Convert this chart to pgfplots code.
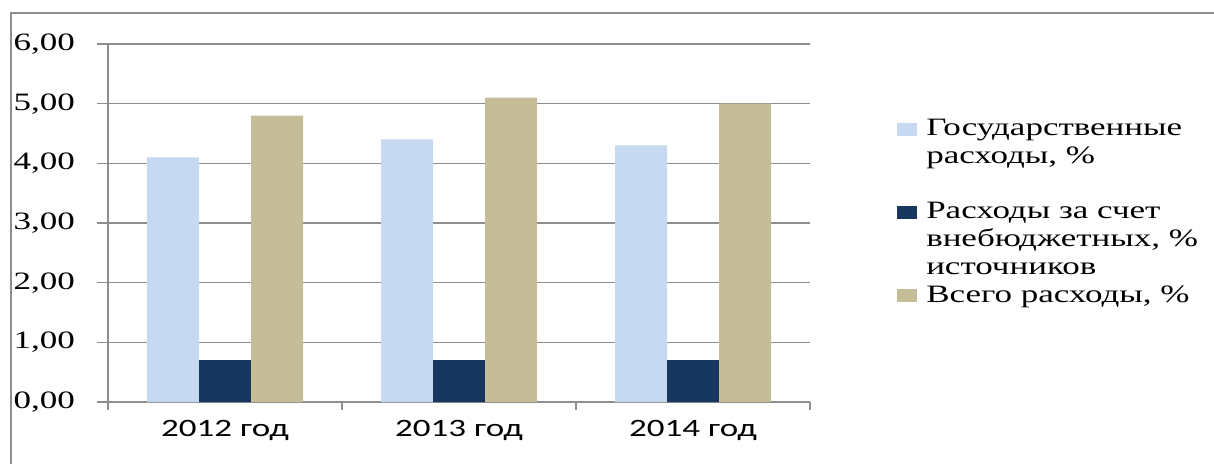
\documentclass[border=0pt]{standalone}
\usepackage{fontspec}
\setmainfont{Liberation Serif}[FakeStretch=1.4]
\newfontfamily\xfont{Carlito}[FakeStretch=1.4]
\usepackage{pgfplots}
\pgfplotsset{compat=1.18}
\definecolor{gosblue}{HTML}{C6D9F1}
\definecolor{vnenavy}{HTML}{17375E}
\definecolor{vsetan}{HTML}{C4BD97}
\definecolor{gridgray}{HTML}{8E8E8E}
\pgfplotsset{sqlegend/.style={legend image code/.code={\fill[##1] (0pt,0pt) rectangle (20pt,13pt);}}}

\begin{document}
\fontsize{25}{28}\selectfont
\begin{tikzpicture}
\useasboundingbox (-108pt,-61pt) rectangle (1106pt,402pt);
\draw[gridgray, line width=2pt] (-97pt,-62pt) -- (-97pt,389pt) -- (1107pt,389pt);
\begin{axis}[
  at={(0pt,0pt)}, anchor=south west,
  scale only axis, width=702pt, height=358pt,
  ybar=0pt, bar width=52pt,
  xmin=-0.5, xmax=2.5, ymin=0, ymax=6,
  ytick={0,1,2,3,4,5,6},
  xtick={0,1,2}, xticklabels={2012 год, 2013 год, 2014 год},
  minor xtick={-0.5,0.5,1.5,2.5},
  axis x line*=bottom, axis y line*=left,
  axis line style={gridgray, line width=1.5pt, -},
  ymajorgrids, major grid style={gridgray, line width=1.5pt},
  tick align=outside, major tick length=11pt, minor tick length=8pt,
  tick style={gridgray, line width=1.5pt},
  major x tick style={draw=none},
  yticklabel style={font=\fontsize{25}{28}\selectfont, inner sep=0pt, xshift=-22pt,
    /pgf/number format/.cd, fixed, fixed zerofill, precision=2, use comma, assume math mode=true},
  xticklabel style={font=\xfont\fontsize{25}{28}\selectfont, inner sep=0pt, yshift=-7pt},
  legend style={at={(1.124,0.806)}, anchor=north west, draw=none, fill=none,
    inner sep=0pt, row sep=0pt, column sep=7pt,
    cells={anchor=base west, inner sep=0pt, text height=20pt, text depth=11pt},
    font=\fontsize{25}{28}\selectfont},
]
\addplot[fill=gosblue, draw=none, bar shift=-52pt, sqlegend] coordinates {(0,4.1) (1,4.4) (2,4.3)};
\addlegendentry{Государственные}
\addlegendimage{empty legend}
\addlegendentry{расходы, \%}
\addlegendimage{empty legend}
\addlegendentry{\mbox{}}
\addplot[fill=vnenavy, draw=none, bar shift=0pt, sqlegend] coordinates {(0,0.7) (1,0.7) (2,0.7)};
\addlegendentry{Расходы за счет}
\addlegendimage{empty legend}
\addlegendentry{внебюджетных, \%}
\addlegendimage{empty legend}
\addlegendentry{источников}
\addplot[fill=vsetan, draw=none, bar shift=52pt, sqlegend] coordinates {(0,4.8) (1,5.1) (2,5.0)};
\addlegendentry{Всего расходы, \%}
\end{axis}
\end{tikzpicture}
\end{document}
